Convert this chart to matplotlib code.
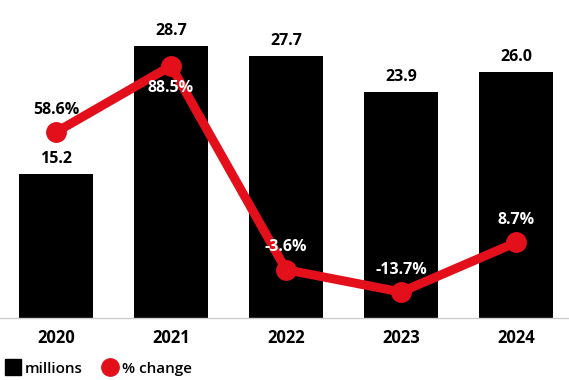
import numpy as np
import matplotlib.pyplot as plt
from matplotlib.lines import Line2D

# Data
years = ["2020", "2021", "2022", "2023", "2024"]
millions = [15.2, 28.7, 27.7, 23.9, 26.0]
pct_change = [58.6, 88.5, -3.6, -13.7, 8.7]

red = "#e3101c"
plt.rcParams["font.family"] = ["Open Sans", "DejaVu Sans"]

fig = plt.figure(figsize=(5.69, 3.8), dpi=100)
ax = fig.add_axes([0, 1 - 318 / 380, 1, 318 / 380])
x = np.arange(len(years))

# Bars
ax.bar(x, millions, width=0.64, color="black", zorder=1)
ax.set_xlim(-0.487, 4.46)
ax.set_ylim(0, 33.6)
for xi, v in zip(x, millions):
    ax.annotate(f"{v:.1f}", (xi, v), xytext=(0, 11), textcoords="offset points",
                ha="center", va="center", fontsize=11.5, fontweight="bold")

ax.set_xticks(x)
ax.set_xticklabels(years, fontsize=12, fontweight="bold")
ax.tick_params(axis="x", length=0, pad=8)
ax.set_yticks([])
for s in ["top", "right", "left"]:
    ax.spines[s].set_visible(False)
ax.spines["bottom"].set_color("#cccccc")
ax.spines["bottom"].set_linewidth(1)

# Line on secondary axis
ax2 = ax.twinx()
ax2.plot(x, pct_change, color=red, linewidth=6.5, marker="o", markersize=14,
         solid_capstyle="round", zorder=3)
ax2.set_ylim(-25.44, 118.3)
ax2.set_yticks([])
for s in ["top", "right", "left", "bottom"]:
    ax2.spines[s].set_visible(False)

offsets = [(0, 16), (0, -16), (0, 16), (0, 16), (0, 16)]
colors = ["black", "white", "white", "white", "white"]
for xi, v, off, c in zip(x, pct_change, offsets, colors):
    ax2.annotate(f"{v}%", (xi, v), xytext=off, textcoords="offset points",
                 ha="center", va="center", fontsize=11.5, fontweight="bold", color=c)

# Legend
handles = [
    Line2D([], [], marker="s", color="black", linestyle="none", markersize=12,
           label="millions"),
    Line2D([], [], marker="o", color=red, linestyle="none", markersize=12.5,
           label="% change"),
]
leg = fig.legend(handles=handles, loc="lower left", bbox_to_anchor=(-0.014, -0.025),
                 ncol=2, frameon=False, fontsize=11, handletextpad=0.25,
                 columnspacing=1.3, handlelength=1.0)
for t in leg.get_texts():
    t.set_fontweight("semibold")

fig.savefig("out.png", dpi=100)
